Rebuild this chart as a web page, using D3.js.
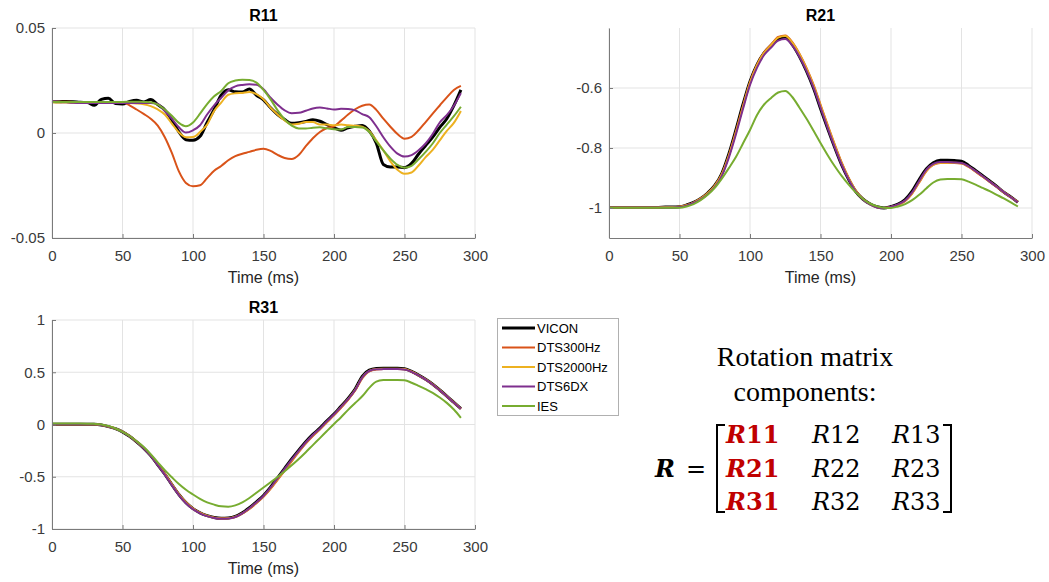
<!DOCTYPE html>
<html>
<head>
<meta charset="utf-8">
<script src="https://cdn.jsdelivr.net/npm/d3@7"></script>
<style>
  body { margin: 0; background: #fff; }
</style>
</head>
<body>
<svg id="chart" width="1049" height="582"></svg>
<script>
// time axis (ms), one sample every 5 ms
var time = [0,5,10,15,20,25,30,35,40,45,
  50,55,60,65,70,75,80,85,90,95,
  100,105,110,115,120,125,130,135,140,145,
  150,155,160,165,170,175,180,185,190,195,
  200,205,210,215,220,225,230,235,240,245,
  250,255,260,265,270,275,280,285,290];

var xTicks = [0, 50, 100, 150, 200, 250, 300];

var seriesNames = ["VICON", "DTS300Hz", "DTS2000Hz", "DTS6DX", "IES"];
var seriesColors = ["#000000", "#D95319", "#EDB120", "#7E2F8E", "#77AC30"];

// R11
var r11Vicon = [0.0150,0.0149,0.0150,0.0149,0.0146,0.0145,0.0132,0.0160,0.0165,0.0140,
  0.0138,0.0150,0.0156,0.0148,0.0159,0.0135,0.0110,0.0062,0.0005,-0.0032,
  -0.0035,-0.0016,0.0050,0.0112,0.0180,0.0206,0.0196,0.0195,0.0210,0.0180,
  0.0158,0.0120,0.0088,0.0064,0.0046,0.0049,0.0055,0.0063,0.0056,0.0040,
  0.0025,0.0013,0.0025,0.0032,0.0036,0.0010,-0.0048,-0.0150,-0.0162,-0.0162,
  -0.0165,-0.0145,-0.0100,-0.0060,-0.0020,0.0027,0.0068,0.0130,0.0205];
var r11Dts300 = [0.0150,0.0149,0.0149,0.0148,0.0148,0.0148,0.0148,0.0148,0.0148,0.0147,
  0.0146,0.0132,0.0112,0.0091,0.0068,0.0035,-0.0020,-0.0095,-0.0183,-0.0238,
  -0.0254,-0.0249,-0.0215,-0.0180,-0.0157,-0.0130,-0.0110,-0.0099,-0.0090,-0.0080,
  -0.0075,-0.0085,-0.0104,-0.0119,-0.0124,-0.0105,-0.0063,-0.0025,0.0005,0.0024,
  0.0032,0.0059,0.0088,0.0113,0.0130,0.0136,0.0110,0.0068,0.0030,-0.0005,
  -0.0027,-0.0018,0.0013,0.0052,0.0092,0.0131,0.0170,0.0205,0.0224];
var r11Dts2000 = [0.0146,0.0145,0.0145,0.0144,0.0144,0.0144,0.0144,0.0144,0.0144,0.0144,
  0.0144,0.0143,0.0141,0.0137,0.0128,0.0112,0.0088,0.0045,0.0003,-0.0020,
  -0.0019,0.0005,0.0040,0.0105,0.0145,0.0182,0.0189,0.0191,0.0195,0.0185,
  0.0160,0.0120,0.0088,0.0060,0.0041,0.0044,0.0052,0.0052,0.0040,0.0040,
  0.0037,0.0040,0.0037,0.0035,0.0030,0.0008,-0.0035,-0.0083,-0.0135,-0.0175,
  -0.0194,-0.0188,-0.0155,-0.0115,-0.0080,-0.0035,0.0010,0.0048,0.0105];
var r11Dts6dx = [0.0152,0.0148,0.0146,0.0144,0.0143,0.0143,0.0143,0.0143,0.0143,0.0143,
  0.0143,0.0143,0.0143,0.0143,0.0143,0.0138,0.0105,0.0068,0.0027,0.0002,
  0.0013,0.0037,0.0088,0.0132,0.0168,0.0203,0.0222,0.0229,0.0232,0.0230,
  0.0208,0.0168,0.0135,0.0108,0.0094,0.0096,0.0106,0.0117,0.0121,0.0117,
  0.0112,0.0115,0.0114,0.0108,0.0090,0.0075,0.0032,-0.0020,-0.0065,-0.0098,
  -0.0112,-0.0105,-0.0082,-0.0050,-0.0005,0.0050,0.0085,0.0130,0.0190];
var r11Ies = [0.0149,0.0148,0.0148,0.0148,0.0148,0.0148,0.0148,0.0148,0.0148,0.0148,
  0.0148,0.0149,0.0149,0.0148,0.0147,0.0135,0.0112,0.0082,0.0048,0.0032,
  0.0050,0.0092,0.0138,0.0175,0.0200,0.0237,0.0250,0.0254,0.0252,0.0240,
  0.0205,0.0160,0.0108,0.0065,0.0035,0.0022,0.0021,0.0025,0.0027,0.0022,
  0.0018,0.0017,0.0028,0.0028,0.0026,0.0005,-0.0040,-0.0083,-0.0122,-0.0152,
  -0.0165,-0.0156,-0.0125,-0.0090,-0.0050,0.0000,0.0040,0.0080,0.0125];

// R21
var r21Vicon = [-0.998,-0.998,-0.998,-0.998,-0.998,-0.998,-0.998,-0.998,-0.997,-0.997,
  -0.996,-0.990,-0.981,-0.968,-0.950,-0.925,-0.885,-0.820,-0.740,-0.655,
  -0.578,-0.522,-0.483,-0.458,-0.436,-0.430,-0.455,-0.494,-0.543,-0.600,
  -0.668,-0.734,-0.797,-0.856,-0.905,-0.945,-0.970,-0.986,-0.996,-1.000,
  -0.995,-0.987,-0.972,-0.944,-0.905,-0.870,-0.849,-0.841,-0.841,-0.842,
  -0.844,-0.858,-0.875,-0.892,-0.910,-0.928,-0.947,-0.963,-0.981];
var r21Dts300 = [-0.998,-0.998,-0.998,-0.998,-0.998,-0.998,-0.998,-0.998,-0.997,-0.997,
  -0.996,-0.991,-0.982,-0.969,-0.951,-0.926,-0.887,-0.824,-0.745,-0.660,
  -0.580,-0.522,-0.481,-0.455,-0.430,-0.425,-0.447,-0.485,-0.532,-0.588,
  -0.655,-0.722,-0.787,-0.848,-0.900,-0.942,-0.969,-0.986,-0.997,-1.000,
  -0.997,-0.990,-0.977,-0.952,-0.915,-0.878,-0.856,-0.850,-0.850,-0.850,
  -0.852,-0.863,-0.879,-0.896,-0.913,-0.930,-0.948,-0.964,-0.980];
var r21Dts2000 = [-0.998,-0.998,-0.998,-0.998,-0.998,-0.998,-0.998,-0.998,-0.997,-0.997,
  -0.996,-0.991,-0.982,-0.969,-0.951,-0.926,-0.888,-0.826,-0.748,-0.663,
  -0.583,-0.524,-0.483,-0.457,-0.432,-0.427,-0.449,-0.487,-0.535,-0.591,
  -0.658,-0.725,-0.789,-0.850,-0.901,-0.943,-0.970,-0.987,-0.997,-1.000,
  -0.997,-0.990,-0.976,-0.951,-0.913,-0.876,-0.855,-0.849,-0.849,-0.849,
  -0.851,-0.862,-0.878,-0.895,-0.912,-0.929,-0.947,-0.964,-0.980];
var r21Dts6dx = [-0.998,-0.998,-0.998,-0.998,-0.998,-0.998,-0.998,-0.998,-0.998,-0.998,
  -0.997,-0.992,-0.983,-0.971,-0.954,-0.930,-0.893,-0.832,-0.755,-0.670,
  -0.590,-0.532,-0.490,-0.465,-0.442,-0.437,-0.458,-0.495,-0.542,-0.598,
  -0.665,-0.732,-0.796,-0.855,-0.905,-0.945,-0.971,-0.988,-0.998,-1.000,
  -0.996,-0.988,-0.975,-0.948,-0.910,-0.873,-0.853,-0.847,-0.847,-0.848,
  -0.850,-0.861,-0.877,-0.894,-0.912,-0.929,-0.947,-0.964,-0.981];
var r21Ies = [-0.999,-0.999,-0.999,-0.999,-0.999,-0.999,-0.999,-0.999,-0.999,-0.999,
  -0.999,-0.995,-0.987,-0.974,-0.956,-0.933,-0.902,-0.867,-0.830,-0.785,
  -0.740,-0.690,-0.655,-0.633,-0.615,-0.610,-0.630,-0.665,-0.702,-0.742,
  -0.783,-0.823,-0.860,-0.893,-0.922,-0.948,-0.969,-0.985,-0.994,-0.999,
  -1.000,-0.995,-0.987,-0.974,-0.956,-0.935,-0.915,-0.905,-0.903,-0.903,
  -0.904,-0.912,-0.922,-0.933,-0.944,-0.956,-0.968,-0.981,-0.995];

// R31
var r31Vicon = [0.003,0.003,0.003,0.003,0.003,0.003,0.002,-0.005,-0.020,-0.040,
  -0.070,-0.113,-0.166,-0.226,-0.298,-0.385,-0.475,-0.575,-0.670,-0.748,
  -0.805,-0.845,-0.872,-0.890,-0.898,-0.895,-0.880,-0.845,-0.797,-0.740,
  -0.680,-0.600,-0.510,-0.420,-0.330,-0.245,-0.165,-0.095,-0.035,0.035,
  0.100,0.175,0.250,0.340,0.460,0.520,0.535,0.538,0.538,0.538,
  0.533,0.508,0.473,0.432,0.385,0.330,0.272,0.212,0.153];
var r31Dts300 = [0.003,0.003,0.003,0.003,0.003,0.003,0.002,-0.005,-0.020,-0.040,
  -0.068,-0.110,-0.163,-0.223,-0.295,-0.382,-0.472,-0.572,-0.668,-0.747,
  -0.805,-0.846,-0.874,-0.892,-0.900,-0.898,-0.885,-0.853,-0.808,-0.753,
  -0.693,-0.617,-0.530,-0.442,-0.352,-0.265,-0.183,-0.110,-0.048,0.020,
  0.087,0.160,0.236,0.325,0.440,0.508,0.527,0.532,0.532,0.532,
  0.528,0.505,0.470,0.430,0.383,0.328,0.270,0.210,0.150];
var r31Dts2000 = [0.003,0.003,0.003,0.003,0.003,0.003,0.002,-0.005,-0.020,-0.040,
  -0.069,-0.111,-0.164,-0.224,-0.296,-0.383,-0.473,-0.573,-0.669,-0.747,
  -0.805,-0.845,-0.873,-0.891,-0.899,-0.897,-0.883,-0.850,-0.804,-0.748,
  -0.688,-0.610,-0.522,-0.434,-0.344,-0.258,-0.177,-0.104,-0.043,0.026,
  0.092,0.166,0.242,0.331,0.448,0.512,0.530,0.534,0.534,0.534,
  0.530,0.506,0.471,0.431,0.384,0.329,0.271,0.211,0.151];
var r31Dts6dx = [0.003,0.003,0.003,0.003,0.003,0.003,0.002,-0.005,-0.020,-0.040,
  -0.070,-0.113,-0.166,-0.227,-0.300,-0.388,-0.479,-0.580,-0.675,-0.753,
  -0.810,-0.850,-0.877,-0.895,-0.903,-0.900,-0.885,-0.850,-0.802,-0.745,
  -0.684,-0.605,-0.515,-0.425,-0.336,-0.252,-0.172,-0.100,-0.040,0.030,
  0.095,0.168,0.242,0.330,0.448,0.512,0.528,0.530,0.531,0.531,
  0.527,0.504,0.470,0.430,0.383,0.328,0.270,0.210,0.150];
var r31Ies = [0.009,0.009,0.009,0.009,0.009,0.008,0.006,0.000,-0.015,-0.038,
  -0.070,-0.110,-0.160,-0.215,-0.285,-0.362,-0.437,-0.505,-0.570,-0.625,
  -0.670,-0.712,-0.745,-0.767,-0.783,-0.787,-0.774,-0.745,-0.703,-0.653,
  -0.603,-0.553,-0.503,-0.447,-0.390,-0.330,-0.265,-0.197,-0.130,-0.062,
  0.005,0.070,0.140,0.205,0.270,0.350,0.410,0.425,0.427,0.427,
  0.423,0.400,0.370,0.338,0.303,0.258,0.207,0.143,0.064];

var matrixRows = [["R11", "R12", "R13"], ["R21", "R22", "R23"], ["R31", "R32", "R33"]];

var svg = d3.select("#chart");

var panels = [
  {title: "R11", x0: 52, x1: 475, y0: 28, y1: 238, yDomain: [-0.05, 0.05], yTicks: [-0.05, 0, 0.05],
   series: [r11Vicon, r11Dts300, r11Dts2000, r11Dts6dx, r11Ies]},
  {title: "R21", x0: 609, x1: 1032, y0: 28, y1: 238, yDomain: [-1.1, -0.4], yTicks: [-1, -0.8, -0.6],
   series: [r21Vicon, r21Dts300, r21Dts2000, r21Dts6dx, r21Ies]},
  {title: "R31", x0: 52, x1: 475, y0: 320, y1: 529, yDomain: [-1, 1], yTicks: [-1, -0.5, 0, 0.5, 1],
   series: [r31Vicon, r31Dts300, r31Dts2000, r31Dts6dx, r31Ies]}
];

panels.forEach(function(p) {
  var x = d3.scaleLinear().domain([0, 300]).range([p.x0, p.x1]);
  var y = d3.scaleLinear().domain(p.yDomain).range([p.y1, p.y0]);
  var g = svg.append("g");

  // grid
  g.append("g").selectAll("line")
    .data(xTicks)
    .join("line")
    .attr("x1", (d) => x(d)).attr("x2", (d) => x(d))
    .attr("y1", p.y0).attr("y2", p.y1)
    .attr("stroke", "#e3e3e3").attr("stroke-width", 1);
  g.append("g").selectAll("line")
    .data(p.yTicks)
    .join("line")
    .attr("x1", p.x0).attr("x2", p.x1)
    .attr("y1", (d) => y(d)).attr("y2", (d) => y(d))
    .attr("stroke", "#e3e3e3").attr("stroke-width", 1);

  var line = d3.line()
    .x((d, i) => x(time[i]))
    .y((d) => y(d))
    .curve(d3.curveMonotoneX);

  g.append("g").selectAll("path")
    .data(p.series)
    .join("path")
    .attr("d", line)
    .attr("fill", "none")
    .attr("stroke", (d, i) => seriesColors[i])
    .attr("stroke-width", (d, i) => i == 0 ? 3 : 2)
    .attr("stroke-linejoin", "round");

  var xAxis = d3.axisBottom(x).tickValues(xTicks).tickSizeInner(-4).tickSizeOuter(0)
    .tickPadding(12).tickFormat((d) => String(d));
  var yAxis = d3.axisLeft(y).tickValues(p.yTicks).tickSizeInner(-4).tickSizeOuter(0)
    .tickPadding(7).tickFormat((d) => String(d));

  var gx = g.append("g").attr("transform", "translate(0," + p.y1 + ")").call(xAxis);
  var gy = g.append("g").attr("transform", "translate(" + p.x0 + ",0)").call(yAxis);
  [gx, gy].forEach(function(a) {
    a.attr("font-family", "'Liberation Sans', Arial, sans-serif").attr("font-size", 15);
    a.select(".domain").attr("stroke", "#7a7a7a");
    a.selectAll(".tick line").attr("stroke", "#7a7a7a");
    a.selectAll(".tick text").attr("fill", "#3a3a3a");
  });

  g.append("text")
    .attr("x", (p.x0 + p.x1) / 2)
    .attr("y", p.y0 - 7)
    .attr("text-anchor", "middle")
    .attr("font-family", "'Liberation Sans', Arial, sans-serif")
    .attr("font-size", 16)
    .attr("font-weight", "bold")
    .text(p.title);

  g.append("text")
    .attr("x", (p.x0 + p.x1) / 2)
    .attr("y", p.y1 + 45)
    .attr("text-anchor", "middle")
    .attr("font-family", "'Liberation Sans', Arial, sans-serif")
    .attr("font-size", 16)
    .attr("fill", "#262626")
    .text("Time (ms)");
});

// legend
var legend = svg.append("g");
legend.append("rect")
  .attr("x", 497.5).attr("y", 318.5).attr("width", 121).attr("height", 97)
  .attr("fill", "#fff").attr("stroke", "#b0b0b0");
var legRow = legend.selectAll(".leg")
  .data(seriesNames)
  .join("g")
  .attr("transform", (d, i) => "translate(0," + (328 + i * 19.5) + ")");
legRow.append("line")
  .attr("x1", 502).attr("x2", 535)
  .attr("stroke", (d, i) => seriesColors[i])
  .attr("stroke-width", (d, i) => i == 0 ? 3 : 2);
legRow.append("text")
  .attr("x", 537).attr("dy", "0.35em")
  .attr("font-family", "'Liberation Sans', Arial, sans-serif")
  .attr("font-size", 13)
  .text((d) => d);

// rotation matrix annotation
var note = svg.append("g").attr("font-family", "'Liberation Serif', 'Times New Roman', serif");
note.append("text").attr("x", 805).attr("y", 366).attr("text-anchor", "middle")
  .attr("font-size", 28).text("Rotation matrix");
note.append("text").attr("x", 805).attr("y", 401).attr("text-anchor", "middle")
  .attr("font-size", 28).text("components:");

var mat = svg.append("g").attr("font-family", "'DejaVu Serif', serif").attr("font-size", 24);
mat.append("text").attr("x", 655).attr("y", 477)
  .attr("font-weight", "bold").attr("font-style", "italic").text("R");
mat.append("text").attr("x", 686).attr("y", 477).text("=");

var colX = [726, 812, 892];
matrixRows.forEach(function(row, r) {
  row.forEach(function(cell, c) {
    var t = mat.append("text")
      .attr("x", colX[c])
      .attr("y", 443 + r * 33.5)
      .attr("fill", c == 0 ? "#c00000" : "#000")
      .attr("font-weight", c == 0 ? "bold" : "normal");
    t.append("tspan").attr("font-style", "italic").text(cell[0]);
    t.append("tspan").text(cell.slice(1));
  });
});

mat.append("path").attr("d", "M725,425H717V512H725")
  .attr("fill", "none").attr("stroke", "#000").attr("stroke-width", 2);
mat.append("path").attr("d", "M943,425H951V512H943")
  .attr("fill", "none").attr("stroke", "#000").attr("stroke-width", 2);
</script>
</body>
</html>
